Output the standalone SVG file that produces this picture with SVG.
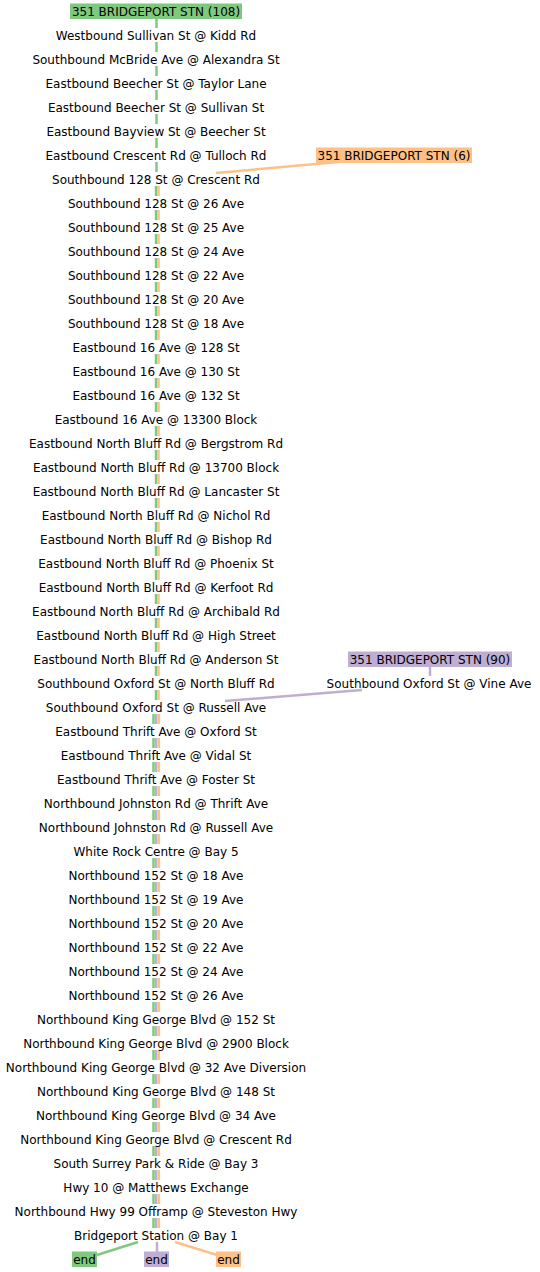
<svg xmlns="http://www.w3.org/2000/svg" width="540" height="1272" viewBox="0 0 540 1272">
<style>
text{font-family:"DejaVu Sans",sans-serif;font-size:12px;text-anchor:middle;fill:#000}
.g{stroke:#7fc97f}.p{stroke:#beaed4}.o{stroke:#fdc086}
.d{fill:none;stroke-width:2.5;stroke-dasharray:10 14}
.c{fill:none;stroke-width:2.5}
</style>
<rect width="540" height="1272" fill="#fff"/>
<g id="connectors">
<path class="d g" d="M156.5 18V172"/>
<path class="d g" d="M156 186V700"/>
<path class="d o" d="M158.5 186V700"/>
<path class="d g" d="M153.5 714V1228"/>
<path class="d p" d="M156.2 714V1228"/>
<path class="d o" d="M158.9 714V1228"/>
<path class="c o" d="M216 173L338 162"/>
<path class="c p" d="M430 666V676"/>
<path class="c p" d="M362 690L225 701"/>
<path class="c g" d="M138 1242L97 1255"/>
<path class="c p" d="M157 1242V1253"/>
<path class="c o" d="M175 1242L217 1255"/>
</g>
<g id="start108"><rect x="70" y="3.5" width="172" height="15.5" fill="#7fc97f"/><text x="156" y="15.5">351 BRIDGEPORT STN (108)</text></g>
<g id="start6"><rect x="316" y="147.5" width="156" height="15.5" fill="#fdc086"/><text x="394" y="159.5">351 BRIDGEPORT STN (6)</text></g>
<g id="start90"><rect x="348" y="651.5" width="164" height="15.5" fill="#beaed4"/><text x="430" y="663.5">351 BRIDGEPORT STN (90)</text></g>
<g id="vine"><text x="429" y="688">Southbound Oxford St @ Vine Ave</text></g>
<g id="stops">
<g id="s1"><text x="156" y="40">Westbound Sullivan St @ Kidd Rd</text></g>
<g id="s2"><text x="156" y="64">Southbound McBride Ave @ Alexandra St</text></g>
<g id="s3"><text x="156" y="88">Eastbound Beecher St @ Taylor Lane</text></g>
<g id="s4"><text x="156" y="112">Eastbound Beecher St @ Sullivan St</text></g>
<g id="s5"><text x="156" y="136">Eastbound Bayview St @ Beecher St</text></g>
<g id="s6"><text x="156" y="160">Eastbound Crescent Rd @ Tulloch Rd</text></g>
<g id="s7"><text x="156" y="184">Southbound 128 St @ Crescent Rd</text></g>
<g id="s8"><text x="156" y="208">Southbound 128 St @ 26 Ave</text></g>
<g id="s9"><text x="156" y="232">Southbound 128 St @ 25 Ave</text></g>
<g id="s10"><text x="156" y="256">Southbound 128 St @ 24 Ave</text></g>
<g id="s11"><text x="156" y="280">Southbound 128 St @ 22 Ave</text></g>
<g id="s12"><text x="156" y="304">Southbound 128 St @ 20 Ave</text></g>
<g id="s13"><text x="156" y="328">Southbound 128 St @ 18 Ave</text></g>
<g id="s14"><text x="156" y="352">Eastbound 16 Ave @ 128 St</text></g>
<g id="s15"><text x="156" y="376">Eastbound 16 Ave @ 130 St</text></g>
<g id="s16"><text x="156" y="400">Eastbound 16 Ave @ 132 St</text></g>
<g id="s17"><text x="156" y="424">Eastbound 16 Ave @ 13300 Block</text></g>
<g id="s18"><text x="156" y="448">Eastbound North Bluff Rd @ Bergstrom Rd</text></g>
<g id="s19"><text x="156" y="472">Eastbound North Bluff Rd @ 13700 Block</text></g>
<g id="s20"><text x="156" y="496">Eastbound North Bluff Rd @ Lancaster St</text></g>
<g id="s21"><text x="156" y="520">Eastbound North Bluff Rd @ Nichol Rd</text></g>
<g id="s22"><text x="156" y="544">Eastbound North Bluff Rd @ Bishop Rd</text></g>
<g id="s23"><text x="156" y="568">Eastbound North Bluff Rd @ Phoenix St</text></g>
<g id="s24"><text x="156" y="592">Eastbound North Bluff Rd @ Kerfoot Rd</text></g>
<g id="s25"><text x="156" y="616">Eastbound North Bluff Rd @ Archibald Rd</text></g>
<g id="s26"><text x="156" y="640">Eastbound North Bluff Rd @ High Street</text></g>
<g id="s27"><text x="156" y="664">Eastbound North Bluff Rd @ Anderson St</text></g>
<g id="s28"><text x="156" y="688">Southbound Oxford St @ North Bluff Rd</text></g>
<g id="s29"><text x="156" y="712">Southbound Oxford St @ Russell Ave</text></g>
<g id="s30"><text x="156" y="736">Eastbound Thrift Ave @ Oxford St</text></g>
<g id="s31"><text x="156" y="760">Eastbound Thrift Ave @ Vidal St</text></g>
<g id="s32"><text x="156" y="784">Eastbound Thrift Ave @ Foster St</text></g>
<g id="s33"><text x="156" y="808">Northbound Johnston Rd @ Thrift Ave</text></g>
<g id="s34"><text x="156" y="832">Northbound Johnston Rd @ Russell Ave</text></g>
<g id="s35"><text x="156" y="856">White Rock Centre @ Bay 5</text></g>
<g id="s36"><text x="156" y="880">Northbound 152 St @ 18 Ave</text></g>
<g id="s37"><text x="156" y="904">Northbound 152 St @ 19 Ave</text></g>
<g id="s38"><text x="156" y="928">Northbound 152 St @ 20 Ave</text></g>
<g id="s39"><text x="156" y="952">Northbound 152 St @ 22 Ave</text></g>
<g id="s40"><text x="156" y="976">Northbound 152 St @ 24 Ave</text></g>
<g id="s41"><text x="156" y="1000">Northbound 152 St @ 26 Ave</text></g>
<g id="s42"><text x="156" y="1024">Northbound King George Blvd @ 152 St</text></g>
<g id="s43"><text x="156" y="1048">Northbound King George Blvd @ 2900 Block</text></g>
<g id="s44"><text x="156" y="1072">Northbound King George Blvd @ 32 Ave Diversion</text></g>
<g id="s45"><text x="156" y="1096">Northbound King George Blvd @ 148 St</text></g>
<g id="s46"><text x="156" y="1120">Northbound King George Blvd @ 34 Ave</text></g>
<g id="s47"><text x="156" y="1144">Northbound King George Blvd @ Crescent Rd</text></g>
<g id="s48"><text x="156" y="1168">South Surrey Park &amp; Ride @ Bay 3</text></g>
<g id="s49"><text x="156" y="1192">Hwy 10 @ Matthews Exchange</text></g>
<g id="s50"><text x="156" y="1216">Northbound Hwy 99 Offramp @ Steveston Hwy</text></g>
<g id="s51"><text x="156" y="1240">Bridgeport Station @ Bay 1</text></g>
</g>
<g id="end108"><rect x="72" y="1251.5" width="25" height="15.5" fill="#7fc97f"/><text x="84.5" y="1263.5">end</text></g>
<g id="end90"><rect x="144" y="1251.5" width="25" height="15.5" fill="#beaed4"/><text x="156.5" y="1263.5">end</text></g>
<g id="end6"><rect x="216" y="1251.5" width="25" height="15.5" fill="#fdc086"/><text x="228.5" y="1263.5">end</text></g>
</svg>
